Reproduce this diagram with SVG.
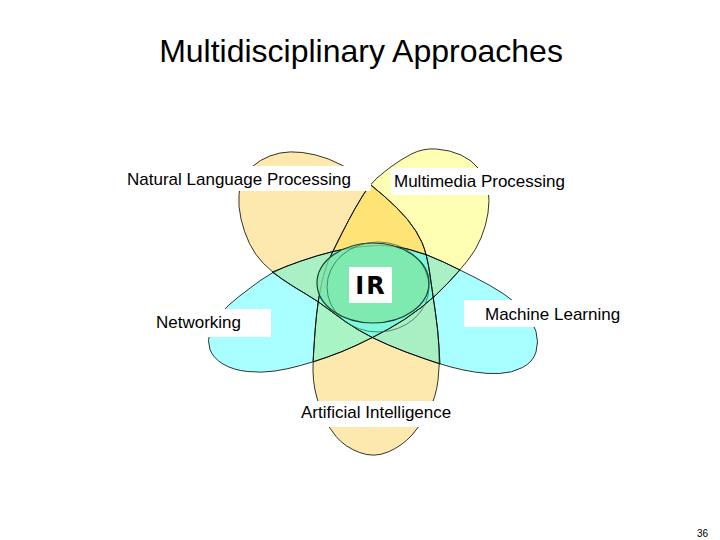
<svg xmlns="http://www.w3.org/2000/svg" width="720" height="540" viewBox="0 0 720 540">
<style>
.pf{fill-opacity:0.5;stroke:none}
.lbl{font-family:"Liberation Sans",Arial,sans-serif;font-size:17px;fill:#000}
.box{fill:#fff}
</style>
<defs>
<path id="d-nlp" d="M440,364 L422.5,358 Q405,352 388.5,345 Q372,338 358.5,330 Q345,322 331.5,311.5 Q318,301 305,293.5 Q292,286 282,279 Q272,272 263.5,263.5 Q255,255 249.5,243.5 Q244,232 241,219 Q238,206 239,194.5 Q240,183 245.5,174.5 Q251,166 260.5,160.5 Q270,155 280,153 Q290,151 302.5,152.5 Q315,154 328.5,159 Q342,164 356,174 Q370,184 384,196 Q398,208 407.5,219.5 Q417,231 422,242.5 Q427,254 430,275 Q433,296 435.5,313 Q438,330 439,347 L440,364 Z"/>
<path id="d-mm" d="M313,362 L314,346 Q315,330 316.5,315 Q318,300 321.5,284 Q325,268 329,259.5 Q333,251 337.5,242 Q342,233 348.5,220.5 Q355,208 362.5,196 Q370,184 377,178 Q384,172 392,166 Q400,160 411.5,154 Q423,148 436.5,149 Q450,150 461,155 Q472,160 479,169 Q486,178 488,189 Q490,200 488,213 Q486,226 481,238 Q476,250 468,260 Q460,270 448,283 Q436,296 420.5,308 Q405,320 388.5,329 Q372,338 357,345 Q342,352 327.5,357 L313,362 Z"/>
<path id="d-ai" d="M370,184 L384,196 Q398,208 407.5,219.5 Q417,231 422,242.5 Q427,254 430,275 Q433,296 435.5,313 Q438,330 439,347 Q440,364 438,380.5 Q436,397 429,410.5 Q422,424 412,435 Q402,446 388,452 Q374,458 359.5,452.5 Q345,447 336,436.5 Q327,426 322,413 Q317,400 315,390 Q313,380 313,371 Q313,362 314,346 Q315,330 316.5,315 Q318,300 321.5,284 Q325,268 329,259.5 Q333,251 337.5,242 Q342,233 348.5,220.5 Q355,208 362.5,196 L370,184 Z"/>
<path id="d-net" d="M460,270 L448,283 Q436,296 420.5,308 Q405,320 388.5,329 Q372,338 357,345 Q342,352 327.5,357 Q313,362 300.5,365.5 Q288,369 275,371 Q262,373 247.5,371.5 Q233,370 223,364 Q213,358 210,349.5 Q207,341 210,331.5 Q213,322 220.5,313.5 Q228,305 239,296.5 Q250,288 261,280 Q272,272 286,266.5 Q300,261 316.5,256 Q333,251 347.5,248.5 Q362,246 377,245.5 Q392,245 409.5,249.5 Q427,254 443.5,262 L460,270 Z"/>
<path id="d-ml" d="M272,272 L286,266.5 Q300,261 316.5,256 Q333,251 347.5,248.5 Q362,246 377,245.5 Q392,245 409.5,249.5 Q427,254 443.5,262 Q460,270 475,277.5 Q490,285 503,293.5 Q516,302 524.5,311.5 Q533,321 536,331.5 Q539,342 536,352 Q533,362 522.5,367.5 Q512,373 499.5,373.5 Q487,374 474.5,372 Q462,370 451,367 Q440,364 422.5,358 Q405,352 388.5,345 Q372,338 358.5,330 Q345,322 331.5,311.5 Q318,301 305,293.5 Q292,286 282,279 L272,272 Z"/>
<clipPath id="c-net"><use href="#d-net"/></clipPath>
<clipPath id="c-ml"><use href="#d-ml"/></clipPath>
<mask id="m-no-mm" maskUnits="userSpaceOnUse" x="0" y="0" width="720" height="540"><rect width="720" height="540" fill="#fff"/><use href="#d-mm" fill="#000"/></mask>
<mask id="m-no-nlp" maskUnits="userSpaceOnUse" x="0" y="0" width="720" height="540"><rect width="720" height="540" fill="#fff"/><use href="#d-nlp" fill="#000"/></mask>
</defs>
<rect width="720" height="540" fill="#fff"/>
<text x="361" y="62" text-anchor="middle" style="font-family:'Liberation Sans',Arial,sans-serif;font-size:32px;fill:#000">Multidisciplinary Approaches</text>
<g id="petals">
<g id="petal-nlp"><use href="#d-nlp" class="pf" fill="#FBD35D"/></g>
<g id="petal-mm"><use href="#d-mm" class="pf" fill="#FFFF67"/></g>
<g id="petal-ai"><use href="#d-ai" class="pf" fill="#FBD35D"/></g>
<g id="petal-net"><use href="#d-net" class="pf" fill="#53FFFF"/></g>
<g id="petal-ml"><use href="#d-ml" class="pf" fill="#53FFFF"/></g>
</g>
<g id="overlaps" clip-path="url(#c-net)"><g clip-path="url(#c-ml)">
<use href="#d-nlp" fill="#A9F0C4" mask="url(#m-no-mm)"/>
<use href="#d-mm" fill="#A9F0C4" mask="url(#m-no-nlp)"/>
</g></g>
<g id="outlines" fill="none" stroke="#000" stroke-width="0.8" stroke-linejoin="round">
<use href="#d-nlp"/><use href="#d-mm"/><use href="#d-ai"/><use href="#d-net"/><use href="#d-ml"/>
</g>
<g id="petal-ir">
<ellipse cx="373" cy="283" rx="56" ry="40" fill="#7FE6A6" fill-opacity="0.82" stroke="#1a4030" stroke-width="1.2"/>
<ellipse cx="378" cy="287" rx="51" ry="45" fill="none" stroke="#2f5a45" stroke-width="0.7"/>
</g>
<g id="label-nlp"><rect class="box" x="122" y="166" width="249" height="25"/><text class="lbl" x="127" y="185">Natural Language Processing</text></g>
<g id="label-mm"><rect class="box" x="391" y="168" width="181" height="27"/><text class="lbl" x="394" y="187">Multimedia Processing</text></g>
<g id="label-net"><rect class="box" x="150" y="309" width="121" height="28"/><text class="lbl" x="156" y="328">Networking</text></g>
<g id="label-ml"><rect class="box" x="464" y="300" width="161" height="27"/><text class="lbl" x="485" y="320">Machine Learning</text></g>
<g id="label-ai"><rect class="box" x="297" y="401" width="163" height="26"/><text class="lbl" x="301" y="418">Artificial Intelligence</text></g>
<g id="label-ir"><rect class="box" x="349" y="267" width="43" height="36"/><text x="371" y="294" text-anchor="middle" style="font-family:'DejaVu Sans',sans-serif;font-weight:bold;font-size:24px;letter-spacing:2px;fill:#000">IR</text></g>
<text x="708" y="537" text-anchor="end" style="font-family:'Liberation Sans',Arial,sans-serif;font-size:10px;fill:#000">36</text>
</svg>
